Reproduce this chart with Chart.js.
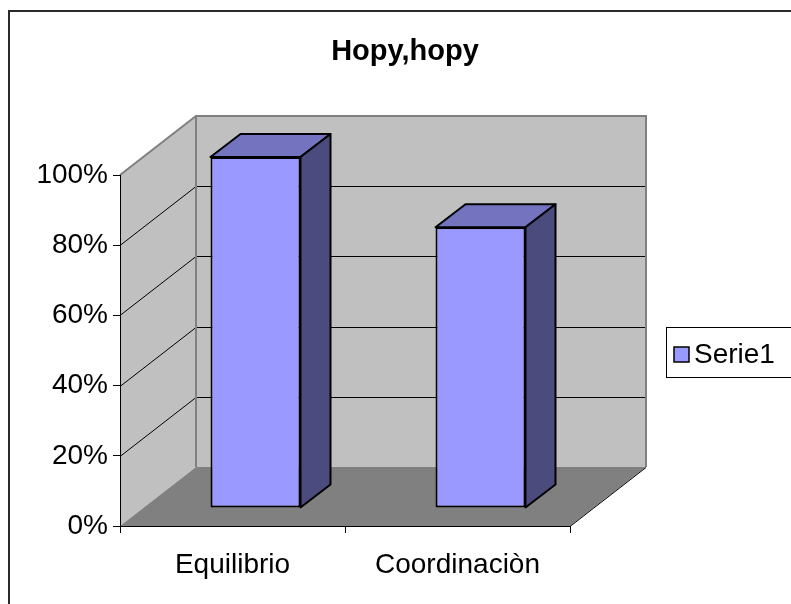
<!DOCTYPE html>
<html lang="es">
<head>
<meta charset="utf-8">
<title>Hopy,hopy</title>
<script src="https://cdn.jsdelivr.net/npm/chart.js@4.4.1/dist/chart.umd.min.js"></script>
<style>
  html, body { margin: 0; padding: 0; background: #fff; overflow: hidden; }
  canvas { display: block; }
</style>
</head>
<body>
<canvas id="hopyChart" width="791" height="604"></canvas>
<script>
const chartTitle = 'Hopy,hopy';
const seriesName = 'Serie1';
const categories = ['Equilibrio', 'Coordinaciòn'];
const serie1 = [100, 80];
const yTicks = [0, 20, 40, 60, 80, 100];

const FONT = '"Liberation Sans", Arial, sans-serif';
const DEPTH = { x: 76, y: -59 };      // front edge -> back wall
const BAR_SHIFT = { x: 23, y: -18 };  // bars stand a little inside the box
const BAR_DEPTH = { x: 30, y: -23 };
const COLORS = {
  wall: '#c0c0c0',
  floor: '#808080',
  edge: '#808080',
  front: '#9999ff',
  top: '#7373c0',
  side: '#4b4b7d'
};

function poly(ctx, pts, fill, stroke, lw) {
  ctx.beginPath();
  pts.forEach((p, i) => i ? ctx.lineTo(p[0], p[1]) : ctx.moveTo(p[0], p[1]));
  ctx.closePath();
  if (fill) { ctx.fillStyle = fill; ctx.fill(); }
  if (stroke) { ctx.strokeStyle = stroke; ctx.lineWidth = lw || 1; ctx.lineJoin = 'round'; ctx.stroke(); }
}

/* walls, floor, 3D faces of the bars, legend */
const box3d = {
  id: 'box3d',
  beforeDraw(chart) {
    const { ctx, chartArea: a, scales: { y } } = chart;
    const dx = DEPTH.x, dy = DEPTH.y;
    ctx.save();
    poly(ctx, [[a.left, a.bottom], [a.left, a.top], [a.left + dx, a.top + dy], [a.left + dx, a.bottom + dy]], COLORS.wall);
    poly(ctx, [[a.left + dx, a.top + dy], [a.right + dx, a.top + dy], [a.right + dx, a.bottom + dy], [a.left + dx, a.bottom + dy]], COLORS.wall);
    poly(ctx, [[a.left, a.bottom], [a.right, a.bottom], [a.right + dx, a.bottom + dy], [a.left + dx, a.bottom + dy]], COLORS.floor);

    // gridlines on left and back wall
    ctx.strokeStyle = '#000';
    ctx.lineWidth = 1;
    y.ticks.forEach(t => {
      if (t.value === y.min || t.value === y.max) return;
      const py = Math.round(y.getPixelForValue(t.value)) + 0.5;
      ctx.beginPath();
      ctx.moveTo(a.left, py);
      ctx.lineTo(a.left + dx, py + dy);
      ctx.lineTo(a.right + dx, py + dy);
      ctx.stroke();
    });

    // wall edges
    ctx.strokeStyle = COLORS.edge;
    ctx.lineWidth = 2;
    ctx.beginPath();
    ctx.moveTo(a.left, a.top);
    ctx.lineTo(a.left + dx, a.top + dy);
    ctx.lineTo(a.right + dx, a.top + dy);
    ctx.lineTo(a.right + dx, a.bottom + dy);
    ctx.moveTo(a.left + dx, a.top + dy);
    ctx.lineTo(a.left + dx, a.bottom + dy);
    ctx.stroke();

    // floor right edge
    ctx.strokeStyle = '#000';
    ctx.lineWidth = 1;
    ctx.beginPath();
    ctx.moveTo(a.right, a.bottom + 0.5);
    ctx.lineTo(a.right + dx, a.bottom + dy + 0.5);
    ctx.stroke();
    ctx.restore();
  },
  beforeDatasetsDraw(chart) {
    chart.ctx.save();
    chart.ctx.translate(BAR_SHIFT.x, BAR_SHIFT.y);
  },
  afterDatasetsDraw(chart) {
    const ctx = chart.ctx;
    const dx = BAR_DEPTH.x, dy = BAR_DEPTH.y;
    chart.getDatasetMeta(0).data.forEach(bar => {
      const l = bar.x - bar.width / 2, r = bar.x + bar.width / 2;
      const t = bar.y, b = bar.base;
      poly(ctx, [[l, t], [l + dx, t + dy], [r + dx, t + dy], [r, t]], COLORS.top, '#000', 2);
      poly(ctx, [[r, t], [r + dx, t + dy], [r + dx, b + dy], [r, b]], COLORS.side, '#000', 2);
    });
    ctx.restore();
  },
  afterDraw(chart) {
    const ctx = chart.ctx;
    const ds = chart.data.datasets[0];
    ctx.save();
    // legend (runs off the right edge like the original)
    ctx.strokeStyle = '#000';
    ctx.lineWidth = 1;
    ctx.strokeRect(666.5, 327.5, 150, 50);
    ctx.fillStyle = ds.backgroundColor;
    ctx.fillRect(674, 347, 15, 15);
    ctx.lineWidth = 1.5;
    ctx.strokeRect(674, 347, 15, 15);
    ctx.fillStyle = '#000';
    ctx.font = '28px ' + FONT;
    ctx.textBaseline = 'alphabetic';
    ctx.fillText(ds.label, 694, 363);
    // outer chart border
    ctx.strokeStyle = '#2a2a2a';
    ctx.lineWidth = 2;
    ctx.strokeRect(9, 11, 820, 640);
    ctx.restore();
  }
};

const axisFont = { family: FONT, size: 28 };

new Chart(document.getElementById('hopyChart'), {
  type: 'bar',
  data: {
    labels: categories,
    datasets: [{
      label: seriesName,
      data: serie1,
      yAxisID: 'y',
      backgroundColor: COLORS.front,
      borderColor: '#000',
      borderWidth: 2,
      borderSkipped: false,
      barPercentage: 0.4,
      categoryPercentage: 1,
      clip: false
    }]
  },
  plugins: [box3d],
  options: {
    responsive: false,
    animation: false,
    devicePixelRatio: 1,
    layout: { padding: { left: 19, right: 0, top: 0, bottom: 0 } },
    plugins: {
      legend: { display: false },
      tooltip: { enabled: false },
      title: {
        display: true,
        text: chartTitle,
        color: '#000',
        font: { family: FONT, size: 29, weight: 'bold', lineHeight: 1.2 },
        padding: { top: 35, bottom: 105.2 }
      }
    },
    scales: {
      x: {
        grid: { offset: true, drawOnChartArea: false, tickLength: 7, color: '#000' },
        border: { color: '#000' },
        ticks: { color: '#000', font: axisFont, padding: 15, maxRotation: 0 },
        afterFit(s) { s.height = 78; }
      },
      y: {
        min: 0,
        max: 100,
        afterBuildTicks(s) { s.ticks = yTicks.map(v => ({ value: v })); },
        grid: { drawOnChartArea: false, tickLength: 7, color: '#000' },
        border: { color: '#000' },
        ticks: { color: '#000', font: axisFont, padding: 5, callback: v => v + '%' },
        afterFit(s) { s.width = 101; }
      },
      gap: {
        type: 'linear',
        position: 'right',
        grid: { display: false },
        border: { display: false },
        ticks: { display: false },
        afterFit(s) { s.width = 221; }
      }
    }
  }
});
</script>
</body>
</html>
